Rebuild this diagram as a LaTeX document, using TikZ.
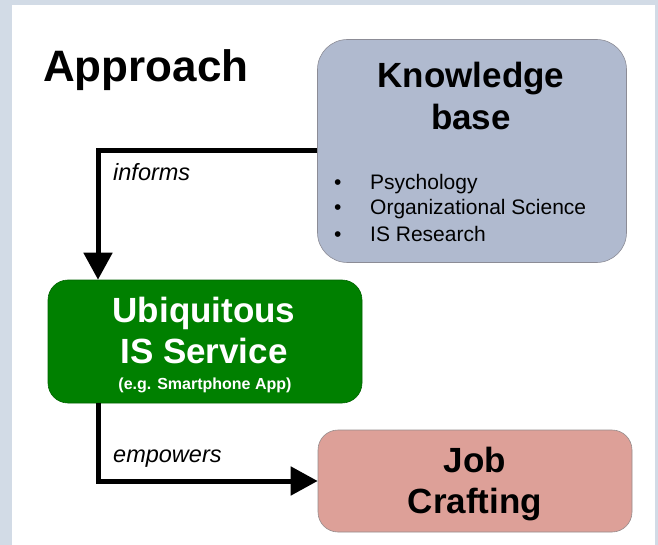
\documentclass[tikz,border=0pt]{standalone}
\usepackage{fontspec}
\setmainfont{Liberation Sans}
\usetikzlibrary{arrows.meta,calc}
\definecolor{bgc}{RGB}{210,219,230}
\definecolor{kbfill}{RGB}{176,186,207}
\definecolor{kbdraw}{RGB}{140,140,150}
\definecolor{ubifill}{RGB}{0,128,0}
\definecolor{ubidraw}{RGB}{0,100,0}
\definecolor{jobfill}{RGB}{221,160,152}
\definecolor{jobdraw}{RGB}{150,140,140}
\tikzset{
  box/.style={rectangle, inner sep=0pt, line width=0.6pt},
  conn/.style={line width=5pt, line join=miter, -{Triangle[width=28pt,length=27pt]}},
  big/.style={font=\fontsize{35}{40}\selectfont\bfseries, inner sep=0pt, anchor=base},
  bullet/.style={font=\fontsize{21}{24}\selectfont, inner sep=0pt, anchor=base west},
  lbl/.style={font=\fontsize{23.5}{28}\selectfont\itshape, inner sep=0pt, anchor=base west}
}
\begin{document}
\begin{tikzpicture}[x=1pt,y=-1pt]
\useasboundingbox (0,0) rectangle (658,545);
\fill[bgc] (0,0) rectangle (658,545);
\fill[white] (12,5) rectangle (655,545);

\node[font=\fontsize{44}{50}\selectfont\bfseries, inner sep=0pt, anchor=base west] (title) at (43,82) {Approach};

\node[box, draw=kbdraw, fill=kbfill, rounded corners=30pt, minimum width=309pt, minimum height=223pt] (kb) at (472,151) {};
\node[big] (kb1) at (471,88) {Knowledge};
\node[big] (kb2) at (471,130) {base};
\node[bullet] (b1) at (334,190) {•};
\node[bullet] (b2) at (334,215) {•};
\node[bullet] (b3) at (334,241) {•};
\node[bullet] (t1) at (370,190) {Psychology};
\node[bullet] (t2) at (370,215) {Organizational Science};
\node[bullet] (t3) at (370,241) {IS Research};

\node[box, draw=ubidraw, fill=ubifill, rounded corners=20pt, minimum width=314pt, minimum height=123pt] (ubi) at (205,341.5) {};
\node[big, text=white] (u1) at (204,322) {Ubiquitous};
\node[big, text=white] (u2) at (204,363) {IS Service};
\node[big, text=white, font=\fontsize{16}{18}\selectfont\bfseries] (u3) at (205,389) {(e.g. Smartphone App)};

\node[box, draw=jobdraw, fill=jobfill, rounded corners=20pt, minimum width=314pt, minimum height=102pt] (job) at (475,481) {};
\node[big] (j1) at (475,472) {Job};
\node[big] (j2) at (475,513) {Crafting};

\coordinate (c1) at (98,151);
\draw[conn] (kb.west) -- (c1) -- (c1 |- ubi.north);
\draw[conn] (c1 |- ubi.south) |- (job.west);

\node[lbl] (inf) at (113,181) {informs};
\node[lbl] (emp) at (113,462) {empowers};
\end{tikzpicture}
\end{document}
